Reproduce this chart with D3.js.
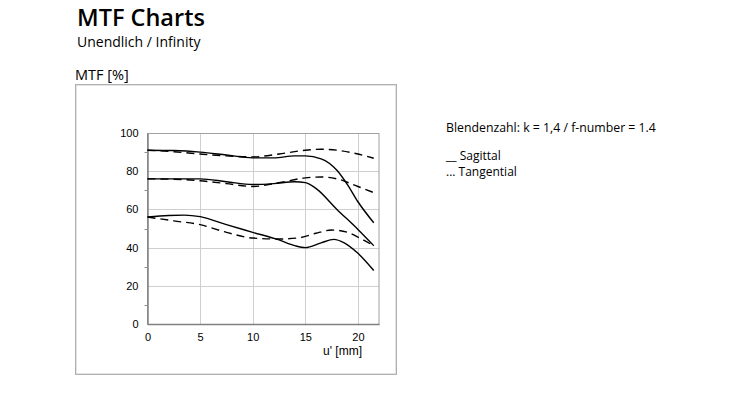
<!DOCTYPE html>
<html><head><meta charset="utf-8">
<script src="https://cdn.jsdelivr.net/npm/d3@7"></script>
<style>body{margin:0;background:#fff}svg{display:block}</style>
</head><body>
<svg id="c" width="749" height="411"></svg>
<script>
// Data
const xTicks = [0, 5, 10, 15, 20];
const yTicks = [0, 20, 40, 60, 80, 100];
const sag1 = [[0,91],[2.5,90.8],[5,90],[7.5,88.5],[10,87],[12,87],[14,88],[15,88],[16.5,86.5],[18,80.5],[19,73],[20,64],[21.5,53]];
const tan1 = [[0,91],[2.5,90.2],[5,89],[7.5,88],[10,87.5],[12.5,89],[15,91],[16.5,91.5],[18,91],[20,89],[21.5,86.8]];
const sag2 = [[0,76],[2.5,76],[5,76],[7.5,74.5],[10,73],[12,73.5],[14,74.5],[15,74],[16,71],[18,60],[20,49.5],[21.5,41]];
const tan2 = [[0,76],[2.5,75.8],[5,75],[7.5,73.5],[10,72],[12.5,74],[15,76.5],[16.5,77],[18,76],[20,72],[21.5,68.8]];
const sag3 = [[0,56],[2,56.8],[3.5,57],[5,56.2],[7.5,52],[10,48],[12.5,44],[14,41],[15,40],[16.5,42.5],[17.7,44.3],[18.7,42.5],[20,37],[21.5,28]];
const tan3 = [[0,56],[2.5,54],[5,52],[7.5,48],[10,45],[12.5,44.5],[14.5,45.2],[16,47.5],[17.5,49.2],[19,48],[20.5,44],[21.5,41]];
const series = [
  {pts: sag1, dashed: false}, {pts: tan1, dashed: true},
  {pts: sag2, dashed: false}, {pts: tan2, dashed: true},
  {pts: sag3, dashed: false}, {pts: tan3, dashed: true}
];

const svg = d3.select("#c");
const font = "'Open Sans', 'Noto Sans', sans-serif";

svg.append("text").attr("x", 77).attr("y", 25.5).attr("font-family", font)
  .attr("font-size", 23.5).attr("font-weight", 600).attr("fill", "#000").text("MTF Charts");
svg.append("text").attr("x", 77).attr("y", 46.5).attr("font-family", font)
  .attr("font-size", 14).attr("fill", "#000").text("Unendlich / Infinity");
svg.append("text").attr("x", 75).attr("y", 80).attr("font-family", font)
  .attr("font-size", 14.5).attr("fill", "#000").text("MTF [%]");

// outer frame
svg.append("rect").attr("x", 75.5).attr("y", 84.5).attr("width", 321).attr("height", 290)
  .attr("fill", "#fff").attr("stroke", "#b0b0b0").attr("stroke-width", 1);
svg.append("rect").attr("x", 76.5).attr("y", 85.5).attr("width", 319).attr("height", 288)
  .attr("fill", "none").attr("stroke", "#e4e4e4").attr("stroke-width", 1);

const x = d3.scaleLinear().domain([0, 22]).range([147.5, 379]);
const y = d3.scaleLinear().domain([0, 100]).range([324, 133]);

const g = svg.append("g");
// grid
g.selectAll(".vg").data(xTicks.filter(d => d > 0)).join("line")
  .attr("x1", d => Math.round(x(d)) + 0.5).attr("x2", d => Math.round(x(d)) + 0.5)
  .attr("y1", y(100)).attr("y2", y(0)).attr("stroke", "#cfcfcf");
g.selectAll(".hg").data(yTicks.filter(d => d > 0 && d < 100)).join("line")
  .attr("x1", x(0)).attr("x2", x(22))
  .attr("y1", d => Math.round(y(d)) + 0.5).attr("y2", d => Math.round(y(d)) + 0.5).attr("stroke", "#cfcfcf");
// plot border
g.append("rect").attr("x", x(0)).attr("y", y(100) + 0.5).attr("width", x(22) - x(0)).attr("height", y(0) - y(100))
  .attr("fill", "none").attr("stroke", "#a0a0a0");

// axes
const yAxis = d3.axisLeft(y).tickValues(yTicks).tickSize(0).tickPadding(9);
const ya = svg.append("g").attr("transform", `translate(${x(0)},0)`).call(yAxis);
ya.select(".domain").attr("stroke", "#808080").attr("stroke-width", 1.5);
ya.selectAll("text").attr("font-family", "'Liberation Sans', Arial, sans-serif").attr("font-size", 11).attr("fill", "#000");
// minor ticks
svg.selectAll(".mt").data([10, 30, 50, 70, 90]).join("line")
  .attr("x1", x(0) - 3).attr("x2", x(0)).attr("y1", d => Math.round(y(d)) + 0.5).attr("y2", d => Math.round(y(d)) + 0.5)
  .attr("stroke", "#909090");

const xAxis = d3.axisBottom(x).tickValues(xTicks).tickSize(0).tickPadding(9);
const xa = svg.append("g").attr("transform", `translate(0,${y(0)})`).call(xAxis);
xa.select(".domain").attr("stroke", "#808080").attr("stroke-width", 1.5);
xa.selectAll("text").attr("font-family", "'Liberation Sans', Arial, sans-serif").attr("font-size", 11).attr("fill", "#000");

svg.append("text").attr("x", 362).attr("y", 355).attr("text-anchor", "end")
  .attr("font-family", "'Liberation Sans', Arial, sans-serif").attr("font-size", 12).attr("fill", "#000").text("u' [mm]");

// lines
const line = d3.line().x(d => x(d[0])).y(d => y(d[1])).curve(d3.curveMonotoneX);
svg.selectAll(".ln").data(series).join("path")
  .attr("d", d => line(d.pts)).attr("fill", "none").attr("stroke", "#000")
  .attr("stroke-width", 1.4).attr("stroke-dasharray", d => d.dashed ? "8,5" : null);

// legend text
const lf = "'Open Sans', 'Noto Sans', sans-serif";
svg.append("text").attr("x", 446).attr("y", 132).attr("font-family", lf).attr("font-size", 12.3).attr("fill", "#000")
  .text("Blendenzahl: k = 1,4 / f-number = 1.4");
svg.append("text").attr("x", 446).attr("y", 160).attr("font-family", lf).attr("font-size", 12).attr("fill", "#000")
  .text("__ Sagittal");
svg.append("text").attr("x", 446).attr("y", 176).attr("font-family", lf).attr("font-size", 12).attr("fill", "#000")
  .text("... Tangential");
</script>
</body></html>
